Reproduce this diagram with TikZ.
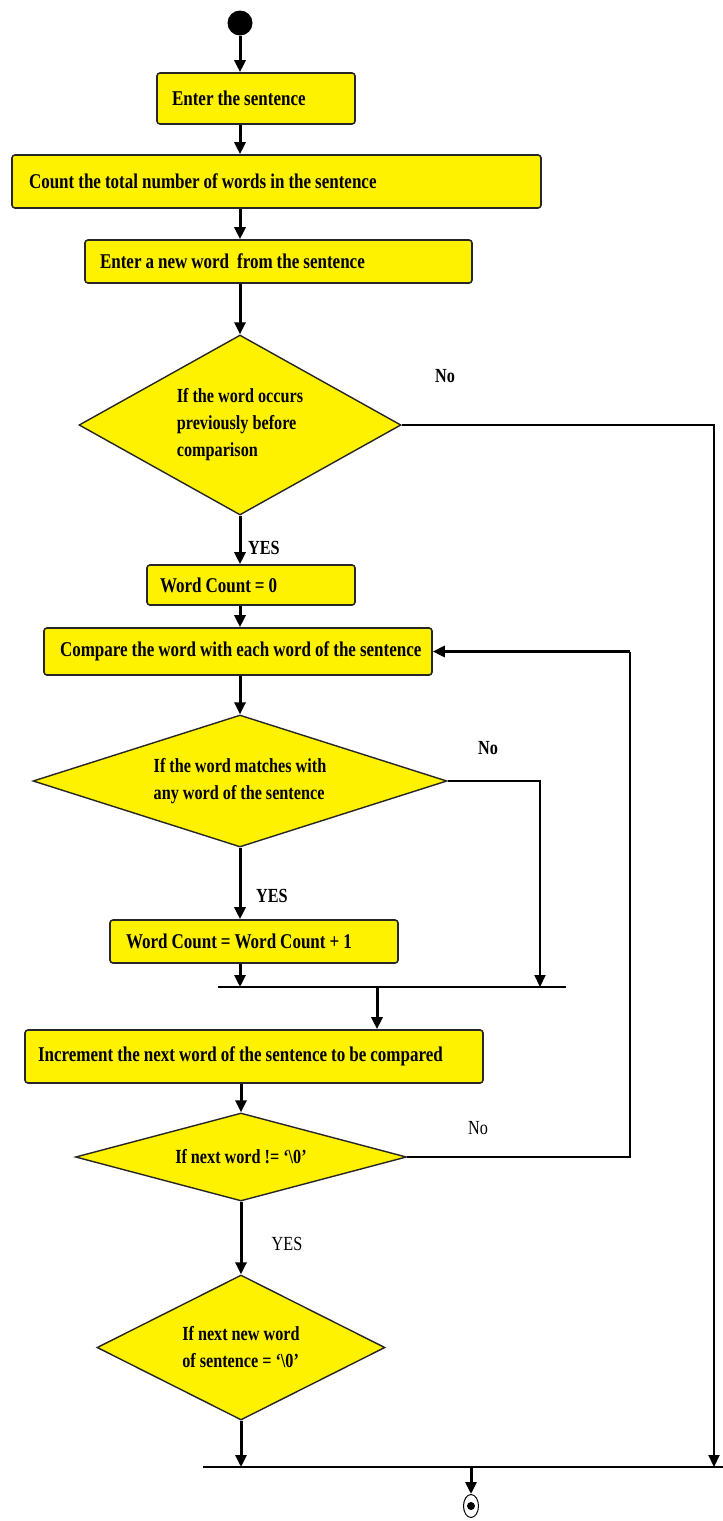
\documentclass[tikz,border=0pt]{standalone}
\usepackage{fontspec}
\setmainfont{Liberation Serif}[FakeStretch=0.81]
\usetikzlibrary{shapes.geometric,arrows.meta}
% condensed text with tight interword spacing
\newcommand{\flowfont}[2]{#1\fontsize{#2}{27}\selectfont\spaceskip=4pt plus 1pt minus 1pt\relax}
\newcommand{\boxline}[1]{\mbox{\spaceskip=4pt plus 1pt minus 1pt\relax #1}}
\begin{document}
\begin{tikzpicture}[x=1pt,y=-1pt,
  every node/.style={font={\flowfont{\bfseries}{21}}},
  procbox/.style={draw=black!85, line width=1.6pt, fill=yellow, rounded corners=3pt,
    inner xsep=15pt, inner ysep=0pt, align=left},
  decision/.style={draw=black!85, line width=1.4pt, fill=yellow, diamond, inner sep=0pt,
    align=left, font={\flowfont{\bfseries}{20}}},
  flow/.style={line width=3pt, -{Triangle[length=12pt,width=11pt]}},
  sideflow/.style={line width=2pt, -{Triangle[length=12pt,width=11pt]}},
  plain/.style={line width=2pt},
  tag/.style={font={\flowfont{\bfseries}{20}}, inner sep=0pt},
  lighttag/.style={font={\flowfont{\mdseries}{20}}, inner sep=0pt}]
\useasboundingbox (0,0) rectangle (723,1521);

% start and process / decision nodes
\node[circle, fill=black, minimum size=25pt, inner sep=0pt] (start) at (240,23) {};
\node[procbox, text width=168pt, minimum height=51pt] (b1) at (256,98.5) {\boxline{Enter the sentence}};
\node[procbox, text width=495pt, minimum height=53pt, inner xsep=17pt] (b2) at (276.5,181.5)
  {\boxline{Count the total number of words in the sentence}};
\node[procbox, text width=357pt, minimum height=43pt] (b3) at (278.5,261.5)
  {\boxline{Enter a new word\ \ from the sentence}};
\node[decision, aspect=1.78, minimum width=322pt, minimum height=180pt] (d1) at (240,425)
  {If the word occurs\\previously before\\comparison};
\node[procbox, text width=182pt, minimum height=40pt, inner xsep=13pt] (b4) at (251,585) {\boxline{Word Count = 0}};
\node[procbox, text width=356pt, minimum height=47pt, inner xsep=16pt] (b5) at (238,651.5)
  {\boxline{Compare the word with each word of the sentence}};
\node[decision, aspect=3.1, minimum width=414pt, minimum height=132pt] (d2) at (240,781)
  {If the word matches with\\any word of the sentence};
\node[procbox, text width=256pt, minimum height=43pt, inner xsep=16pt] (b6) at (254,941.5)
  {\boxline{Word Count = Word Count + 1}};
\node[procbox, text width=432pt, minimum height=53pt, inner xsep=13pt] (b7) at (254,1056.5)
  {\boxline{Increment the next word of the sentence to be compared}};
\node[decision, aspect=3.76, minimum width=331pt, minimum height=88pt] (d3) at (241,1157)
  {If next word != ‘\textbackslash0’};
\node[decision, aspect=2, minimum width=288pt, minimum height=145pt] (d4) at (241,1347.5)
  {If next new word\\of sentence = ‘\textbackslash0’};
\node[ellipse, draw, line width=1pt, minimum width=15pt, minimum height=23pt, inner sep=0pt] (end) at (471,1506) {};
\fill (end.center) circle (4pt);

% junction points
\coordinate (m1L) at (218,987);
\coordinate (m1R) at (566,987);
\coordinate (m1out) at (377,987);
\coordinate (j2) at (540,987);
\coordinate (lp) at (630,651.5);
\coordinate (m2L) at (203,1467);
\coordinate (m2R) at (723,1467);
\coordinate (m2out) at (471,1467);
\coordinate (j1) at (714,1467);

% main column
\draw[flow] (start.south) -- (start |- b1.north);
\draw[flow] (start |- b1.south) -- (start |- b2.north);
\draw[flow] (start |- b2.south) -- (start |- b3.north);
\draw[flow] (d1.north |- b3.south) -- (d1.north);
\draw[flow] (d1.south) -- (d1 |- b4.north);
\draw[flow] (d1 |- b4.south) -- (d1 |- b5.north);
\draw[flow] (d2 |- b5.south) -- (d2.north);
\draw[flow] (d2.south) -- (d2 |- b6.north);
\draw[flow] (d2 |- b6.south) -- (d2 |- m1L);
\draw[plain] (m1L) -- (m1R);
\draw[flow] (m1out) -- (m1out |- b7.north);
\draw[flow] (d3 |- b7.south) -- (d3.north);
\draw[flow] (d3.south) -- (d4.north);
\draw[flow] (d4.south) -- (d4 |- m2L);
\draw[plain] (m2L) -- (m2R);
\draw[flow] (m2out) -- (end.north);

% side branches
\draw[sideflow] (d2.east) -| (j2);
\draw[plain] (d3.east) -| (lp);
\draw[flow] (lp) -- (b5.east);
\draw[sideflow] (d1.east) -| (j1);

% branch labels
\node[tag] (no1) at (445,376) {No};
\node[tag] (yes1) at (264,548) {YES};
\node[tag] (no2) at (488,748) {No};
\node[tag] (yes2) at (272,896) {YES};
\node[lighttag] (no3) at (478,1128) {No};
\node[lighttag] (yes3) at (287,1244) {YES};
\end{tikzpicture}
\end{document}
